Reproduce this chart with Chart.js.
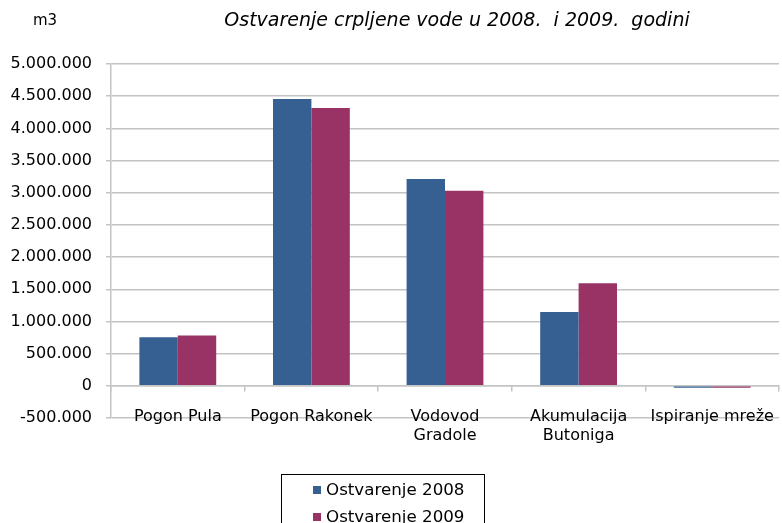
<!DOCTYPE html>
<html>
<head>
<meta charset="utf-8">
<script src="https://cdn.jsdelivr.net/npm/chart.js@4/dist/chart.umd.min.js"></script>
<style>
  html, body { margin: 0; padding: 0; background: #fff; }
  #wrap { position: relative; width: 782px; height: 523px; overflow: hidden; font-family: "DejaVu Sans", Verdana, sans-serif; }
  #c { position: absolute; left: 0; top: 0; }
  #unit { position: absolute; left: 33px; top: 11px; font-size: 15px; color: #000; }
  #title { position: absolute; left: 0; width: 914px; top: 8px; text-align: center; font-size: 19px; font-style: italic; color: #000; white-space: pre; }
  #legend { position: absolute; left: 281px; top: 474px; width: 204px; height: 70px; border: 1px solid #000; box-sizing: border-box; padding-top: 1px; }
  .li { height: 27px; line-height: 27px; font-size: 16.7px; color: #000; white-space: nowrap; }
  .sw { display: inline-block; width: 8px; height: 8px; margin-left: 31px; margin-right: 5px; vertical-align: 1px; }
</style>
</head>
<body>
<div id="wrap">
  <canvas id="c" width="782" height="523"></canvas>
  <div id="unit">m3</div>
  <div id="title"></div>
  <div id="legend"></div>
</div>
<script>
const chartTitle = "Ostvarenje crpljene vode u 2008.  i 2009.  godini";
const unitLabel = "m3";
const categories = ["Pogon Pula", "Pogon Rakonek", ["Vodovod", "Gradole"], ["Akumulacija", "Butoniga"], "Ispiranje mreže"];
const seriesNames = ["Ostvarenje 2008", "Ostvarenje 2009"];
const values2008 = [755000, 4455000, 3215000, 1145000, -30000];
const values2009 = [780000, 4315000, 3030000, 1595000, -30000];
const yMin = -500000, yMax = 5000000, yStep = 500000;
const colors = ["#376092", "#993366"];

document.getElementById('title').textContent = chartTitle;
document.getElementById('unit').textContent = unitLabel;

const fmt = v => String(v).replace(/\B(?=(\d{3})+(?!\d))/g, '.');
const gridGray = '#c4c4c4';

const chart = new Chart(document.getElementById('c'), {
  type: 'bar',
  data: {
    labels: categories,
    datasets: [
      { label: seriesNames[0], data: values2008, backgroundColor: colors[0], borderWidth: 0 },
      { label: seriesNames[1], data: values2009, backgroundColor: colors[1], borderWidth: 0 }
    ]
  },
  options: {
    responsive: false,
    animation: false,
    devicePixelRatio: 1,
    layout: { padding: { top: 64, bottom: 105, left: 0, right: 3 } },
    datasets: { bar: { categoryPercentage: 0.575, barPercentage: 1 } },
    plugins: { legend: { display: false }, title: { display: false }, tooltip: { enabled: false } },
    scales: {
      x: {
        position: { y: 0 },
        offset: true,
        afterFit: s => { s.paddingLeft = 0; s.paddingRight = 0; },
        grid: { offset: true, drawOnChartArea: false, drawTicks: true, tickLength: 5, color: gridGray, lineWidth: 1.5 },
        border: { display: true, color: gridGray, width: 1.5 },
        ticks: { color: '#000', font: { family: 'DejaVu Sans', size: 16 }, padding: 16, maxRotation: 0, autoSkip: false }
      },
      y: {
        min: yMin, max: yMax,
        afterFit: s => { s.width = 111; },
        grid: { color: gridGray, tickColor: gridGray, lineWidth: 1.5, tickLength: 5 },
        border: { display: true, color: gridGray, width: 1.5 },
        ticks: { stepSize: yStep, color: '#000', font: { family: 'DejaVu Sans', size: 16 }, padding: 14, callback: v => fmt(v) }
      }
    }
  }
});

const leg = document.getElementById('legend');
chart.data.datasets.forEach(ds => {
  const d = document.createElement('div');
  d.className = 'li';
  const sw = document.createElement('span');
  sw.className = 'sw';
  sw.style.background = ds.backgroundColor;
  d.appendChild(sw);
  d.appendChild(document.createTextNode(ds.label));
  leg.appendChild(d);
});
</script>
</body>
</html>
